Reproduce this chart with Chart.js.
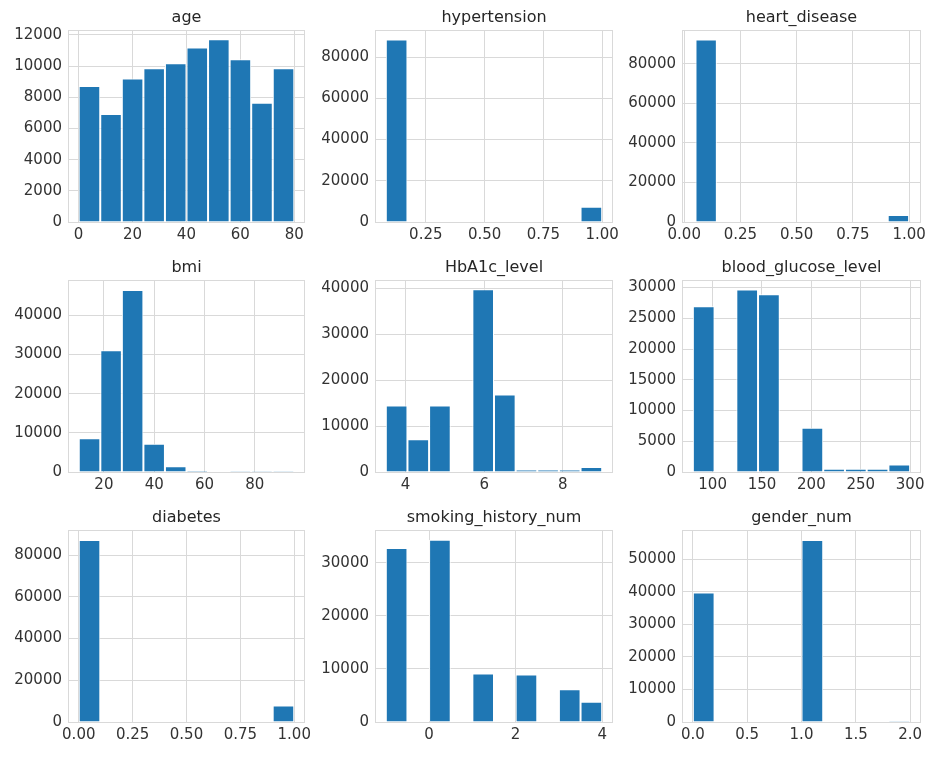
<!DOCTYPE html>
<html><head><meta charset="utf-8">
<script src="https://cdn.jsdelivr.net/npm/chart.js@4.4.1/dist/chart.umd.min.js"></script>
<style>
html,body{margin:0;padding:0;background:#fff;width:926px;height:771px;overflow:hidden;}
#fig{position:relative;width:926px;height:771px;overflow:hidden;}
canvas{position:absolute;}
</style></head><body><div id="fig"></div>
<script>
// ---- data ----
const ageEdges = [0.08, 8.07, 16.06, 24.06, 32.05, 40.04, 48.03, 56.02, 64.02, 72.01, 80.0];
const ageCounts = [8720, 6920, 9210, 9860, 10180, 11190, 11720, 10440, 7650, 9860];
const ageXTicks = [0, 20, 40, 60, 80];
const ageYTicks = [0, 2000, 4000, 6000, 8000, 10000, 12000];

const hypEdges = [0.08, 0.172, 0.264, 0.356, 0.448, 0.54, 0.632, 0.724, 0.816, 0.908, 1.0];
const hypCounts = [88500, 0, 0, 0, 0, 0, 0, 0, 0, 7350];
const hypXTicks = [0.25, 0.5, 0.75, 1.0];
const hypYTicks = [0, 20000, 40000, 60000, 80000];

const heartEdges = [0.05, 0.145, 0.24, 0.335, 0.43, 0.525, 0.62, 0.715, 0.81, 0.905, 1.0];
const heartCounts = [92400, 0, 0, 0, 0, 0, 0, 0, 0, 3500];
const heartXTicks = [0, 0.25, 0.5, 0.75, 1.0];
const heartYTicks = [0, 20000, 40000, 60000, 80000];

const bmiEdges = [10.01, 18.58, 27.15, 35.71, 44.28, 52.85, 61.42, 69.99, 78.56, 87.12, 95.69];
const bmiCounts = [8600, 31100, 46500, 7200, 1500, 330, 70, 25, 10, 5];
const bmiXTicks = [20, 40, 60, 80];
const bmiYTicks = [0, 10000, 20000, 30000, 40000];

const hbaEdges = [3.5, 4.05, 4.6, 5.15, 5.7, 6.25, 6.8, 7.35, 7.9, 8.45, 9.0];
const hbaCounts = [14450, 7100, 14450, 0, 39750, 16850, 500, 500, 500, 1100];
const hbaXTicks = [4, 6, 8];
const hbaYTicks = [0, 10000, 20000, 30000, 40000];

const gluEdges = [80, 102, 124, 146, 168, 190, 212, 234, 256, 278, 300];
const gluCounts = [26950, 0, 29700, 28900, 0, 7200, 520, 520, 520, 1200];
const gluXTicks = [100, 150, 200, 250, 300];
const gluYTicks = [0, 5000, 10000, 15000, 20000, 25000, 30000];

const diaEdges = [0, 0.1, 0.2, 0.3, 0.4, 0.5, 0.6, 0.7, 0.8, 0.9, 1.0];
const diaCounts = [87300, 0, 0, 0, 0, 0, 0, 0, 0, 7900];
const diaXTicks = [0, 0.25, 0.5, 0.75, 1.0];
const diaYTicks = [0, 20000, 40000, 60000, 80000];

const smkEdges = [-1, -0.5, 0, 0.5, 1, 1.5, 2, 2.5, 3, 3.5, 4];
const smkCounts = [32750, 0, 34300, 0, 9150, 0, 8950, 0, 6150, 3800];
const smkXTicks = [0, 2, 4];
const smkYTicks = [0, 10000, 20000, 30000];

const genEdges = [0, 0.2, 0.4, 0.6, 0.8, 1.0, 1.2, 1.4, 1.6, 1.8, 2.0];
const genCounts = [39800, 0, 0, 0, 0, 56000, 0, 0, 0, 18];
const genXTicks = [0, 0.5, 1.0, 1.5, 2.0];
const genYTicks = [0, 10000, 20000, 30000, 40000, 50000];

// ---- layout / style ----
const FONT = "'DejaVu Sans', 'Liberation Sans', sans-serif";
const GRID = '#d9d9d9';
const BAR = '#1f77b4';
const TXT = '#333333';
const colL = [68, 375, 682], colR = [305, 613, 921];
const rowT = [30, 280, 530], rowB = [222, 472, 722];

const panels = [
  {title:'age', edges:ageEdges, counts:ageCounts, xt:ageXTicks, yt:ageYTicks, xMin:-3.88, xMax:83.96, yMax:12300, dec:null, c:0, r:0},
  {title:'hypertension', edges:hypEdges, counts:hypCounts, xt:hypXTicks, yt:hypYTicks, xMin:0.034, xMax:1.046, yMax:93000, dec:2, c:1, r:0},
  {title:'heart_disease', edges:heartEdges, counts:heartCounts, xt:heartXTicks, yt:heartYTicks, xMin:-0.01, xMax:1.053, yMax:97100, dec:2, c:2, r:0},
  {title:'bmi', edges:bmiEdges, counts:bmiCounts, xt:bmiXTicks, yt:bmiYTicks, xMin:5.73, xMax:99.97, yMax:49000, dec:null, c:0, r:1},
  {title:'HbA1c_level', edges:hbaEdges, counts:hbaCounts, xt:hbaXTicks, yt:hbaYTicks, xMin:3.225, xMax:9.275, yMax:41700, dec:null, c:1, r:1},
  {title:'blood_glucose_level', edges:gluEdges, counts:gluCounts, xt:gluXTicks, yt:gluYTicks, xMin:69, xMax:311, yMax:31200, dec:null, c:2, r:1},
  {title:'diabetes', edges:diaEdges, counts:diaCounts, xt:diaXTicks, yt:diaYTicks, xMin:-0.05, xMax:1.05, yMax:92000, dec:2, c:0, r:2},
  {title:'smoking_history_num', edges:smkEdges, counts:smkCounts, xt:smkXTicks, yt:smkYTicks, xMin:-1.25, xMax:4.25, yMax:36100, dec:null, c:1, r:2},
  {title:'gender_num', edges:genEdges, counts:genCounts, xt:genXTicks, yt:genYTicks, xMin:-0.1, xMax:2.1, yMax:59000, dec:1, c:2, r:2}
];

const framePlugin = {
  id: 'frame',
  afterDatasetsDraw(chart) {
    const a = chart.chartArea, ctx = chart.ctx;
    ctx.save();
    ctx.strokeStyle = GRID;
    ctx.lineWidth = 1;
    ctx.strokeRect(Math.round(a.left) + 0.5, Math.round(a.top) + 0.5,
                   Math.round(a.right - a.left) - 1, Math.round(a.bottom - a.top));
    ctx.restore();
  }
};

const fig = document.getElementById('fig');
const YW = 72, RP = 14, TH = 22, XH = 30;

panels.forEach(p => {
  const l = colL[p.c], rt = colR[p.c], t = rowT[p.r], b = rowB[p.r];
  const W = YW + (rt - l) + RP, H = TH + (b - t) + XH;
  const cv = document.createElement('canvas');
  cv.width = W; cv.height = H;
  cv.style.width = W + 'px'; cv.style.height = H + 'px';
  cv.style.left = (l - YW) + 'px'; cv.style.top = (t - TH) + 'px';
  fig.appendChild(cv);
  const pts = p.counts.map((c, i) => ({x: (p.edges[i] + p.edges[i + 1]) / 2, y: c}));
  new Chart(cv, {
    type: 'bar',
    data: {datasets: [{data: pts, backgroundColor: BAR, borderColor: '#ffffff', borderWidth: 1,
                       barPercentage: 1, categoryPercentage: 1, inflateAmount: 0}]},
    options: {
      responsive: false, animation: false, devicePixelRatio: 1,
      layout: {padding: {left: 0, right: RP, top: 0, bottom: 0}},
      plugins: {
        legend: {display: false}, tooltip: {enabled: false},
        title: {display: true, text: p.title, color: '#262626', fullSize: false,
                font: {family: FONT, size: 16, weight: 'normal'}, padding: {top: 0, bottom: 3}}
      },
      scales: {
        x: {
          type: 'linear', min: p.xMin, max: p.xMax, offset: false,
          grid: {color: GRID, drawTicks: false, offset: false},
          border: {display: false},
          ticks: {color: TXT, font: {family: FONT, size: 15}, padding: 4, maxRotation: 0, autoSkip: false,
                  callback: v => p.dec === null ? String(v) : Number(v).toFixed(p.dec)},
          afterBuildTicks: s => { s.ticks = p.xt.map(v => ({value: v})); },
          afterFit: s => { s.height = XH; s.paddingLeft = 0; s.paddingRight = 0; }
        },
        y: {
          type: 'linear', min: 0, max: p.yMax,
          grid: {color: GRID, drawTicks: false},
          border: {display: false},
          ticks: {color: TXT, font: {family: FONT, size: 15}, padding: 6, autoSkip: false,
                  callback: v => String(v)},
          afterBuildTicks: s => { s.ticks = p.yt.map(v => ({value: v})); },
          afterFit: s => { s.width = YW; s.paddingTop = 0; s.paddingBottom = 0; }
        }
      }
    },
    plugins: [framePlugin]
  });
});
</script>
</body></html>
